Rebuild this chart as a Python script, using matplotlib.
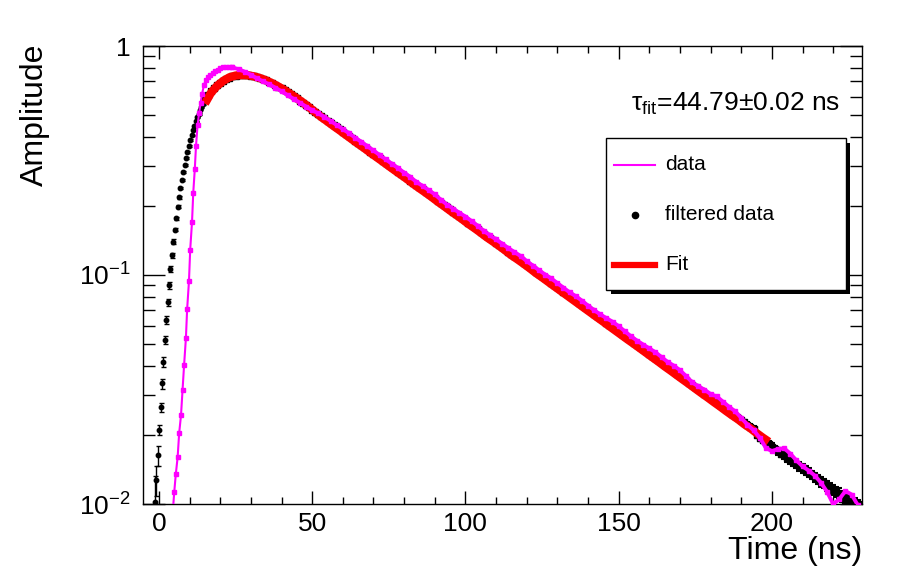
import numpy as np
import matplotlib
matplotlib.use("Agg")
import matplotlib.pyplot as plt
from matplotlib.patches import Rectangle
from matplotlib.lines import Line2D
from matplotlib.ticker import FixedLocator, FixedFormatter, MultipleLocator, LogLocator, NullFormatter

plt.rcParams['font.family'] = ['Liberation Sans', 'DejaVu Sans']
plt.rcParams['mathtext.fontset'] = 'custom'
plt.rcParams['mathtext.rm'] = 'Liberation Sans'
plt.rcParams['mathtext.it'] = 'Liberation Sans:italic'
plt.rcParams['mathtext.sf'] = 'Liberation Sans'

# ---- data ----
# filtered data, rising edge (sample times ~0.46 ns apart)
t_filt_rise = np.linspace(-1.3, 14.8, 36)
filt_rise = [0.0102, 0.0127, 0.0163, 0.0211, 0.0264, 0.0336, 0.0418, 0.0520, 0.0636, 0.0760,
             0.0900, 0.106, 0.122, 0.140, 0.158, 0.177, 0.199, 0.218, 0.240, 0.260,
             0.282, 0.302, 0.323, 0.345, 0.367, 0.388, 0.407, 0.428, 0.448, 0.469,
             0.488, 0.505, 0.526, 0.540, 0.558, 0.575]
filt_rise_err = [0.0030, 0.0019, 0.0016, 0.0011, 0.0013, 0.0017, 0.0020, 0.0021, 0.0026, 0.0026,
                 0.0030, 0.0030, 0.0030, 0.0030, 0.0030, 0.0030, 0.0030, 0.0030, 0.0030, 0.0030,
                 0.0030, 0.0030, 0.0030, 0.0030, 0.0030, 0.0030, 0.0030, 0.0030, 0.0030, 0.0030,
                 0.0030, 0.0030, 0.0030, 0.0030, 0.0030, 0.0030]

# filtered data, from 15 ns on, one value per ns
filt_decay = [0.585, 0.612, 0.637, 0.658, 0.676, 0.692, 0.706, 0.718, 0.728, 0.736,
              0.742, 0.746, 0.748, 0.747, 0.745, 0.741, 0.737, 0.731, 0.724, 0.716,
              0.707, 0.697, 0.687, 0.676, 0.665, 0.653, 0.641, 0.628, 0.616, 0.603,
              0.591, 0.578, 0.566, 0.553, 0.540,
              0.5270, 0.5163, 0.5049, 0.4938, 0.4829, 0.4722, 0.4618, 0.4516, 0.4416, 0.4319,
              0.4223, 0.4130, 0.4039, 0.3950, 0.3863, 0.3777, 0.3694, 0.3613, 0.3533, 0.3455,
              0.3379, 0.3304, 0.3231, 0.3160, 0.3090, 0.3022, 0.2955, 0.2890, 0.2826, 0.2764,
              0.2703, 0.2643, 0.2585, 0.2528, 0.2472, 0.2417, 0.2364, 0.2312, 0.2261, 0.2211,
              0.2162, 0.2114, 0.2068, 0.2022, 0.1977, 0.1934, 0.1891, 0.1849, 0.1809, 0.1769,
              0.1730, 0.1691, 0.1654, 0.1618, 0.1582, 0.1547, 0.1513, 0.1479, 0.1447, 0.1415,
              0.1383, 0.1353, 0.1323, 0.1294, 0.1265, 0.1237, 0.1210, 0.1183, 0.1157, 0.1132,
              0.1107, 0.1082, 0.1058, 0.1035, 0.1012, 0.0990, 0.0968, 0.0947, 0.0926, 0.0905,
              0.0885, 0.0866, 0.0847, 0.0828, 0.0810, 0.0792, 0.0774, 0.0757, 0.0741, 0.0724,
              0.0708, 0.0693, 0.0677, 0.0663, 0.0648, 0.0634, 0.0620, 0.0606, 0.0593, 0.0580,
              0.0567, 0.0554, 0.0542, 0.0530, 0.0518, 0.0507, 0.0496, 0.0485, 0.0474, 0.0464,
              0.0453, 0.0443, 0.0434, 0.0424, 0.0415, 0.0406, 0.0397, 0.0388, 0.0379, 0.0371,
              0.0363, 0.0355, 0.0347, 0.0339, 0.0332, 0.0324, 0.0317, 0.0310, 0.0303, 0.0297,
              0.0290, 0.0284, 0.0278, 0.0271, 0.0265, 0.0260, 0.0254, 0.0248, 0.0243, 0.0238,
              0.0232, 0.0227, 0.0222, 0.0217, 0.0213, 0.0200, 0.0195, 0.0191, 0.0186, 0.0182,
              0.0178, 0.0174, 0.0170, 0.0166, 0.0163, 0.0159, 0.0156, 0.0152, 0.0149, 0.0146,
              0.0143, 0.0140, 0.0137, 0.0134, 0.0131, 0.0128, 0.0125, 0.0123, 0.0120, 0.0118,
              0.0115, 0.0113, 0.0111, 0.0108, 0.0106, 0.0104, 0.0102, 0.0100, 0.0098, 0.0096]
filt_decay_err = 0.0006

# fit, every 2 ns from 15 ns
fit_amp = [0.560, 0.625, 0.670, 0.705, 0.730, 0.743, 0.747, 0.745, 0.737, 0.724,
           0.707, 0.687, 0.665, 0.641, 0.616, 0.591, 0.566, 0.540, 0.514, 0.489,
           0.468, 0.447, 0.428, 0.409, 0.391, 0.374, 0.358, 0.342, 0.327, 0.313,
           0.299, 0.286, 0.274, 0.262, 0.250, 0.239, 0.229, 0.219, 0.209, 0.200,
           0.191, 0.183, 0.175, 0.167, 0.160, 0.153, 0.146, 0.140, 0.134, 0.128,
           0.122, 0.117, 0.112, 0.107, 0.102, 0.0977, 0.0934, 0.0893, 0.0854, 0.0817,
           0.0781, 0.0747, 0.0714, 0.0683, 0.0653, 0.0625, 0.0597, 0.0571, 0.0546, 0.0522,
           0.0500, 0.0478, 0.0457, 0.0437, 0.0418, 0.0399, 0.0382, 0.0365, 0.0349, 0.0334,
           0.0319, 0.0305, 0.0292, 0.0279, 0.0267, 0.0255, 0.0244, 0.0234, 0.0223, 0.0214,
           0.0204, 0.0195, 0.0187]

# raw data, rising edge
t_data_rise = [4.4, 5.0, 5.5, 6.1, 6.6, 7.2, 7.7, 8.2, 8.8, 9.2,
               9.8, 10.2, 10.8, 11.2, 11.7, 12.1, 12.6, 13.1, 13.6, 14.1,
               14.7, 15.3, 16.0, 16.8, 17.6, 18.4, 19.2, 20.0, 21.0, 22.0, 23.0]
data_rise = [0.0088, 0.0113, 0.0135, 0.0160, 0.0204, 0.0244, 0.0314, 0.0403, 0.0530, 0.0709,
             0.0940, 0.129, 0.171, 0.229, 0.290, 0.367, 0.450, 0.508, 0.565, 0.620,
             0.676, 0.711, 0.732, 0.750, 0.765, 0.775, 0.788, 0.800, 0.812, 0.810, 0.806]
# raw data, every 2 ns from 24 ns
data_decay = [0.806, 0.792, 0.772, 0.748, 0.722, 0.700, 0.680, 0.657, 0.634, 0.610,
              0.587, 0.565, 0.544, 0.524, 0.508, 0.490, 0.471, 0.452, 0.434, 0.416,
              0.398, 0.382, 0.365, 0.350, 0.334, 0.320, 0.306, 0.293, 0.280, 0.268,
              0.255, 0.245, 0.235, 0.225, 0.213, 0.203, 0.195, 0.187, 0.180, 0.172,
              0.164, 0.156, 0.149, 0.143, 0.137, 0.131, 0.126, 0.121, 0.115, 0.110,
              0.105, 0.1005, 0.0966, 0.0922, 0.0880, 0.0840, 0.0808, 0.0773, 0.0735, 0.0702,
              0.0673, 0.0648, 0.0625, 0.0598, 0.0568, 0.0540, 0.0517, 0.0497, 0.0478, 0.0460,
              0.0438, 0.0417, 0.0402, 0.0384, 0.0362, 0.0340, 0.0326, 0.0316, 0.0302, 0.0295,
              0.0280, 0.0266, 0.0254, 0.0238, 0.0222, 0.0210, 0.0195, 0.0176, 0.0170, 0.0174,
              0.0175, 0.0166, 0.0155, 0.0146, 0.0140, 0.0133, 0.0124, 0.0113, 0.0100, 0.0105,
              0.0114, 0.0110, 0.0099]

tau_text = 'τ$_{\\mathrm{fit}}$=44.79±0.02 ns'

# ---- assemble series ----
t_decay = 15 + np.arange(len(filt_decay))
t_fit = 15 + 2 * np.arange(len(fit_amp))
t_data_decay = 24 + 2 * np.arange(len(data_decay))

W, H = 898, 574
fig = plt.figure(figsize=(W / 100, H / 100), dpi=100)
ax = fig.add_axes([143 / W, 1 - 504 / H, 719 / W, 458 / H])

# rising edge: sparse points with visible error bars
ax.errorbar(t_filt_rise, filt_rise, yerr=filt_rise_err, fmt='o', color='black', ms=3.2,
            elinewidth=1, capsize=1.8, capthick=1, zorder=2)
# decay: dense points, the markers and error bars merge into a band
ax.errorbar(t_decay, filt_decay, yerr=filt_decay_err, fmt='s', color='black', ms=4.3,
            elinewidth=1.5, capsize=2.5, capthick=1.5, zorder=2)
ax.plot(t_fit, fit_amp, color='red', lw=6, solid_capstyle='butt', zorder=3)
# raw data: thin line with square markers on the edge, dense thick trace afterwards
ax.plot(np.append(t_data_rise, t_data_decay[0]), np.append(data_rise, data_decay[0]),
        color='#ff00ff', lw=1.5, marker='s', ms=3, zorder=4)
ax.plot(t_data_decay, data_decay, color='#ff00ff', lw=2.8, marker='s', ms=2.2, zorder=4)

ax.set_yscale('log')
ax.set_ylim(0.01, 1)
ax.set_xlim(-5.2, 229.4)

ax.xaxis.set_major_locator(MultipleLocator(50))
ax.xaxis.set_minor_locator(MultipleLocator(10))
ax.yaxis.set_major_locator(FixedLocator([0.01, 0.1, 1]))
ax.yaxis.set_major_formatter(FixedFormatter(['$10^{-2}$', '$10^{-1}$', '1']))
ax.yaxis.set_minor_locator(LogLocator(base=10, subs=np.arange(2, 10)))
ax.yaxis.set_minor_formatter(NullFormatter())

ax.tick_params(which='both', direction='in', top=True, right=True, width=1, colors='black')
ax.tick_params(axis='x', which='major', length=9.5, labelsize=19, pad=6)
ax.tick_params(axis='x', which='minor', length=5)
ax.tick_params(axis='y', which='major', length=16, labelsize=19, pad=9)
ax.tick_params(axis='y', which='minor', length=8.5)
for s in ax.spines.values():
    s.set_linewidth(1)

fig.text(862 / W, 1 - 551 / H, 'Time (ns)', ha='right', va='center', fontsize=23)
fig.text(35 / W, 1 - 44 / H, 'Amplitude', rotation=90, ha='center', va='top', fontsize=23)
fig.text(840 / W, 1 - 104 / H, tau_text, ha='right', va='center', fontsize=19)

# legend box with ROOT-like shadow
fig.patches.append(Rectangle((611 / W, 1 - 294 / H), 239 / W, 151 / H,
                             transform=fig.transFigure, facecolor='black', edgecolor='none'))
fig.patches.append(Rectangle((606 / W, 1 - 290 / H), 240 / W, 152 / H,
                             transform=fig.transFigure, facecolor='white', edgecolor='black', lw=1))
rows = [1 - 165 / H, 1 - 215 / H, 1 - 265 / H]
fig.lines.append(Line2D([614 / W, 655 / W], [rows[0]] * 2, transform=fig.transFigure,
                        color='#ff00ff', lw=1.5))
fig.lines.append(Line2D([635 / W], [rows[1]], transform=fig.transFigure,
                        color='black', marker='o', ms=4.5, lw=0))
fig.lines.append(Line2D([614 / W, 655 / W], [rows[2]] * 2, transform=fig.transFigure,
                        color='red', lw=4.5))
for y, lab in zip(rows, ['data', 'filtered data', 'Fit']):
    fig.text(665 / W, y, lab, ha='left', va='center', fontsize=15)

fig.savefig('out.png', dpi=100)
